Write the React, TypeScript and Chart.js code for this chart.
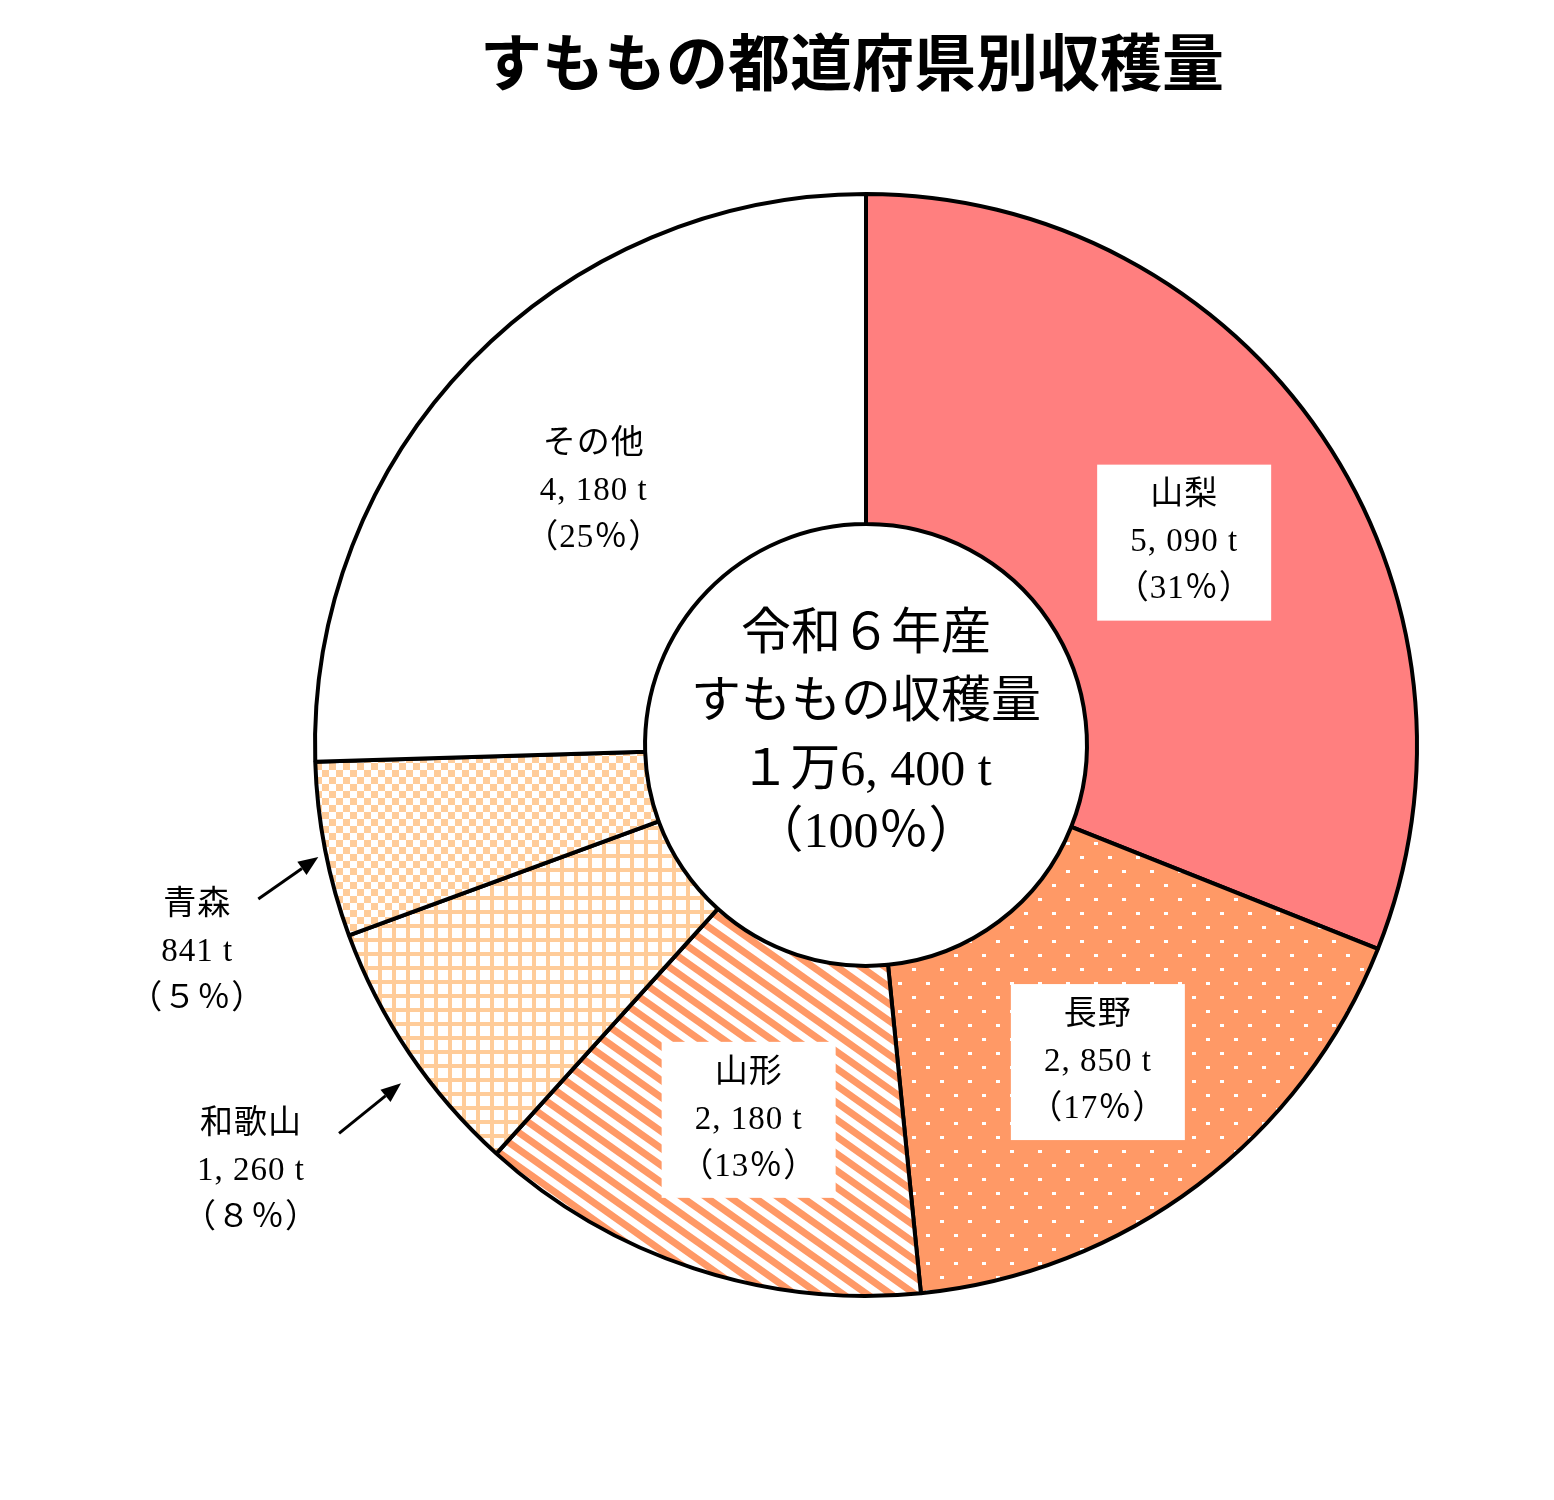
import { useEffect, useRef } from "react";
import { Chart, registerables } from "chart.js";

Chart.register(...registerables);

// ---- data ----
const chartTitle = "すももの都道府県別収穫量";
const prefectures = ["山梨", "長野", "山形", "和歌山", "青森", "その他"];
const harvestTons = [5090, 2850, 2180, 1260, 841, 4180];
const amountLabels = ["5, 090 t", "2, 850 t", "2, 180 t", "1, 260 t", "841 t", "4, 180 t"];
const shareLabels = ["（31％）", "（17％）", "（13％）", "（８％）", "（５％）", "（25％）"];
const totalLines = ["令和６年産", "すももの収穫量", "１万6, 400 t", "（100％）"];

// ---- styles ----
const SALMON = "#FF7F7F";
const ORANGE = "#FF9966";
const PEACH = "#FFCC99";
const JP_FONT = '"Liberation Serif", "Noto Sans CJK JP", serif';
const TITLE_FONT = 'bold 62px "Noto Sans CJK JP", sans-serif';

// label style per slice: inside with white box, inside without box, or outside with arrow
const labelModes = ["box", "box", "box", "arrow", "arrow", "plain"];

function makeTile(w: number, h: number, draw: (c: CanvasRenderingContext2D) => void): CanvasPattern {
  const cv = document.createElement("canvas");
  cv.width = w;
  cv.height = h;
  const c = cv.getContext("2d")!;
  draw(c);
  const p = document.createElement("canvas").getContext("2d")!.createPattern(cv, "repeat")!;
  return p;
}

function buildFills(): (string | CanvasPattern)[] {
  const dots = makeTile(28, 28, (c) => {
    c.fillStyle = ORANGE;
    c.fillRect(0, 0, 28, 28);
    c.fillStyle = "#FFFFFF";
    c.fillRect(2, 2, 4, 3);
    c.fillRect(16, 16, 4, 3);
  });
  const stripes = makeTile(24, 17, (c) => {
    c.fillStyle = "#FFFFFF";
    c.fillRect(0, 0, 24, 17);
    c.strokeStyle = ORANGE;
    c.lineWidth = 7;
    for (let k = -2; k <= 2; k++) {
      c.beginPath();
      c.moveTo(k * 24 - 24, -17);
      c.lineTo(k * 24 + 48, 34);
      c.stroke();
    }
  });
  const grid = makeTile(14, 14, (c) => {
    c.fillStyle = "#FFFFFF";
    c.fillRect(0, 0, 14, 14);
    c.fillStyle = PEACH;
    c.fillRect(0, 0, 4, 14);
    c.fillRect(0, 0, 14, 4);
  });
  const checker = makeTile(14, 14, (c) => {
    c.fillStyle = "#FFFFFF";
    c.fillRect(0, 0, 14, 14);
    c.fillStyle = PEACH;
    c.fillRect(0, 0, 7, 7);
    c.fillRect(7, 7, 7, 7);
  });
  return [SALMON, dots, stripes, grid, checker, "#FFFFFF"];
}

// outside label geometry (relative to arrow tip)
const arrowGap = [0, 0, 0, 24, 8];
const arrowAngleShift = [0, 0, 0, -0.035, -0.01];
const arrowTail = [[0, 0], [0, 0], [0, 0], [-62, 50], [-60, 42]];
const arrowTextOffset = [[0, 0], [0, 0], [0, 0], [-150, 41], [-121, 48]];

const labelPlugin = {
  id: "sliceLabels",
  afterDraw(chart: any) {
    const ctx: CanvasRenderingContext2D = chart.ctx;
    const meta = chart.getDatasetMeta(0);
    const lineH = 47;
    ctx.save();
    ctx.textAlign = "center";
    ctx.textBaseline = "middle";
    ctx.fillStyle = "#000";

    let cx = 0;
    let cy = 0;
    meta.data.forEach((arc: any, i: number) => {
      const p = arc.getProps(["x", "y", "startAngle", "endAngle", "innerRadius", "outerRadius"], true);
      cx = p.x;
      cy = p.y;
      const lines = [prefectures[i], amountLabels[i], shareLabels[i]];
      const mode = labelModes[i];
      ctx.font = `33px ${JP_FONT}`;
      (ctx as any).letterSpacing = "1px";
      if (mode === "box" || mode === "plain") {
        const mid = (p.startAngle + p.endAngle) / 2;
        const r = (p.innerRadius + p.outerRadius) / 2 - 4;
        const lx = p.x + Math.cos(mid) * r + 2;
        const ly = p.y + Math.sin(mid) * r + 12;
        if (mode === "box") {
          ctx.fillStyle = "#FFFFFF";
          ctx.fillRect(lx - 87, ly - 78, 174, 156);
          ctx.fillStyle = "#000";
        }
        lines.forEach((t, k) => ctx.fillText(t, lx, ly + (k - 1) * lineH));
      } else {
        const mid = (p.startAngle + p.endAngle) / 2 + arrowAngleShift[i];
        const r = p.outerRadius + arrowGap[i];
        const tx = p.x + Math.cos(mid) * r;
        const ty = p.y + Math.sin(mid) * r;
        const sx = tx + arrowTail[i][0];
        const sy = ty + arrowTail[i][1];
        const ang = Math.atan2(ty - sy, tx - sx);
        const headLen = 20;
        const headW = 8;
        const bx = tx - Math.cos(ang) * headLen;
        const by = ty - Math.sin(ang) * headLen;
        ctx.strokeStyle = "#000";
        ctx.lineWidth = 3;
        ctx.beginPath();
        ctx.moveTo(sx, sy);
        ctx.lineTo(bx, by);
        ctx.stroke();
        ctx.beginPath();
        ctx.moveTo(tx, ty);
        ctx.lineTo(bx + Math.sin(ang) * headW, by - Math.cos(ang) * headW);
        ctx.lineTo(bx - Math.sin(ang) * headW, by + Math.cos(ang) * headW);
        ctx.closePath();
        ctx.fill();
        const lx = tx + arrowTextOffset[i][0];
        const ly = ty + arrowTextOffset[i][1];
        lines.forEach((t, k) => ctx.fillText(t, lx, ly + k * lineH));
      }
    });

    // center total
    ctx.font = `50px ${JP_FONT}`;
    (ctx as any).letterSpacing = "0px";
    const centerYs = [-109, -41, 27, 89];
    totalLines.forEach((t, k) => ctx.fillText(t, cx, cy + centerYs[k]));

    // title
    ctx.font = TITLE_FONT;
    ctx.fillText(chartTitle, 852, 62);
    ctx.restore();
  },
};

export default function App() {
  const canvasRef = useRef<HTMLCanvasElement | null>(null);

  useEffect(() => {
    document.body.style.margin = "0";
    const canvas = canvasRef.current;
    if (!canvas) return;
    const chart = new Chart(canvas, {
      type: "doughnut",
      data: {
        labels: prefectures,
        datasets: [
          {
            data: harvestTons,
            backgroundColor: buildFills() as any,
            borderColor: "#000000",
            borderWidth: 4,
          },
        ],
      },
      options: {
        responsive: false,
        animation: false,
        events: [],
        radius: 551,
        cutout: "40.1%",
        layout: { padding: { left: 200, right: 22, top: 100, bottom: 110 } },
        plugins: {
          legend: { display: false },
          tooltip: { enabled: false },
          title: { display: false },
        },
      } as any,
      plugins: [labelPlugin],
    });
    return () => chart.destroy();
  }, []);

  return (
    <div style={{ position: "absolute", left: 0, top: 0, width: 1554, height: 1500, background: "#fff" }}>
      <canvas ref={canvasRef} width={1554} height={1500} style={{ width: 1554, height: 1500, display: "block" }} />
    </div>
  );
}
